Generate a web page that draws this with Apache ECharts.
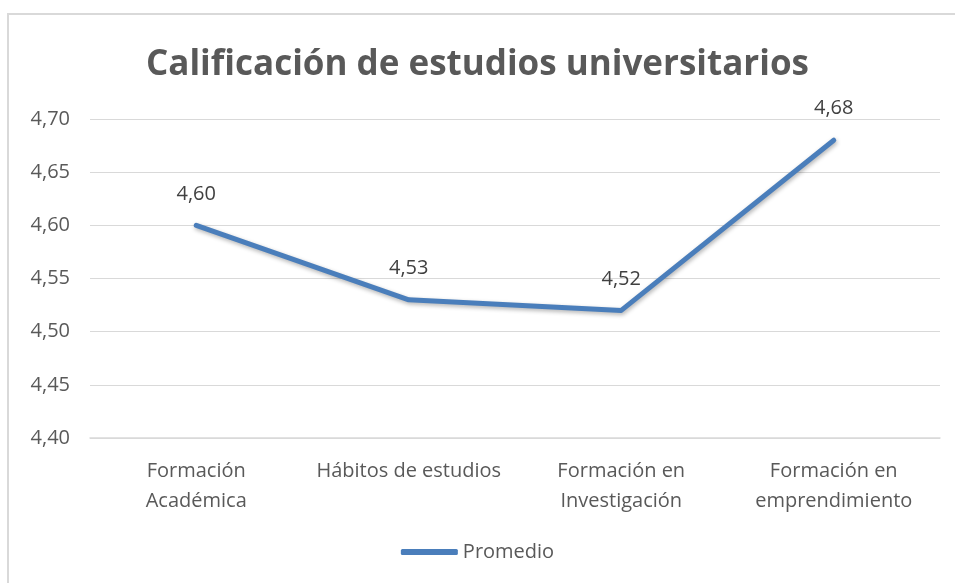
<!DOCTYPE html>
<html>
<head>
<meta charset="utf-8">
<script src="https://cdn.jsdelivr.net/npm/echarts@6/dist/echarts.min.js"></script>
<style>
  html, body { margin: 0; padding: 0; background: #fff; }
  #chart { width: 955px; height: 583px; }
</style>
</head>
<body>
<div id="chart"></div>
<script>
const categories = ['Formación\nAcadémica', 'Hábitos de estudios', 'Formación en\nInvestigación', 'Formación en\nemprendimiento'];
const promedio = [4.60, 4.53, 4.52, 4.68];
const seriesName = 'Promedio';

const FONT = '"Open Sans", "Noto Sans", sans-serif';
const TEXTCOLOR = '#595959';

const comma = v => Number(v).toFixed(2).replace('.', ',');

const myChart = echarts.init(document.getElementById('chart'));

myChart.setOption({
  backgroundColor: '#fff',
  animation: false,
  graphic: [
    {
      type: 'rect',
      shape: { x: 8, y: 14, width: 960, height: 600 },
      style: { fill: 'none', stroke: '#d9d9d9', lineWidth: 2 },
      silent: true
    }
  ],
  title: {
    text: 'Calificación de estudios universitarios',
    left: 'center',
    top: 43,
    textStyle: {
      color: TEXTCOLOR,
      fontFamily: FONT,
      fontWeight: 'bold',
      fontSize: 35
    }
  },
  legend: {
    bottom: 16,
    left: 'center',
    itemWidth: 57,
    itemHeight: 6,
    itemGap: 4,
    icon: 'roundRect',
    textStyle: { color: TEXTCOLOR, fontFamily: FONT, fontSize: 20 },
    data: [seriesName]
  },
  grid: {
    left: 90,
    right: 15,
    top: 119,
    bottom: 145
  },
  xAxis: {
    type: 'category',
    data: categories,
    boundaryGap: true,
    axisTick: { show: false },
    axisLine: { lineStyle: { color: '#d9d9d9', width: 1.5 } },
    axisLabel: {
      color: TEXTCOLOR,
      fontFamily: FONT,
      fontSize: 20,
      lineHeight: 30,
      margin: 18,
      interval: 0
    }
  },
  yAxis: {
    type: 'value',
    min: 4.40,
    max: 4.70,
    interval: 0.05,
    axisLine: { show: false },
    axisTick: { show: false },
    splitLine: { lineStyle: { color: '#d9d9d9' } },
    axisLabel: {
      color: TEXTCOLOR,
      fontFamily: FONT,
      fontSize: 20,
      margin: 20,
      formatter: comma
    }
  },
  series: [
    {
      name: seriesName,
      type: 'line',
      data: promedio,
      symbol: 'circle',
      symbolSize: 1,
      showSymbol: true,
      color: '#4a7ebb',
      lineStyle: {
        width: 5,
        cap: 'round',
        join: 'round',
        shadowColor: 'rgba(0,0,0,0.3)',
        shadowBlur: 4,
        shadowOffsetX: 1,
        shadowOffsetY: 2
      },
      label: {
        show: true,
        position: 'top',
        distance: 21,
        color: '#404040',
        fontFamily: FONT,
        fontSize: 20,
        formatter: p => comma(p.value)
      }
    }
  ]
});
</script>
</body>
</html>
